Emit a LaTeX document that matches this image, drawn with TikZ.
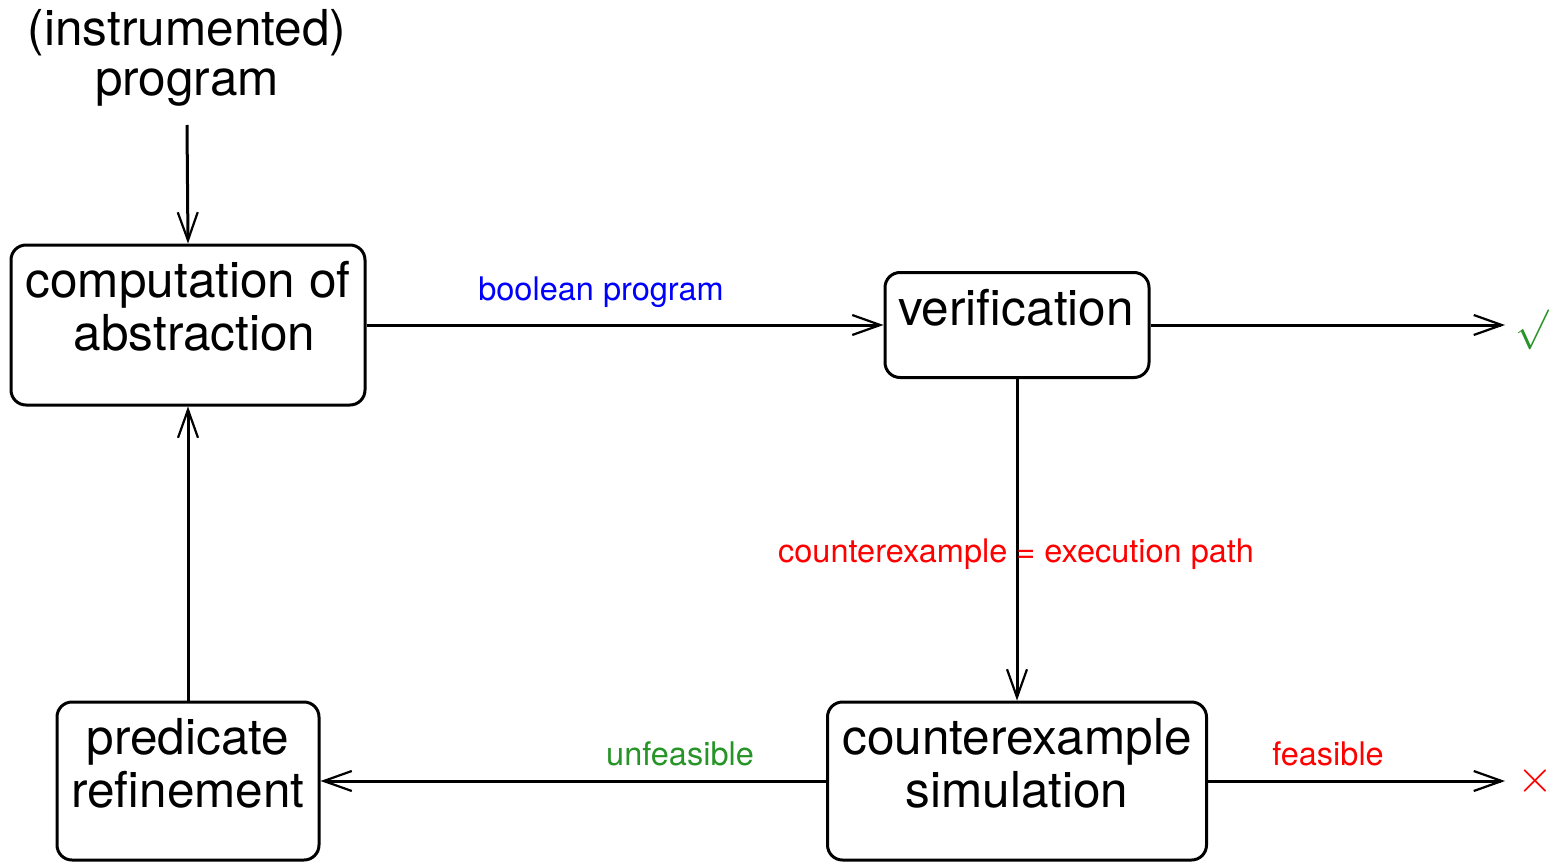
\documentclass[tikz,border=0pt]{standalone}
\usepackage{graphicx}
\usepackage{fontspec}
\setmainfont{TeX Gyre Heros}
\usetikzlibrary{arrows.meta}
\definecolor{okgreen}{rgb}{0.15,0.58,0.15}
\tikzset{
  stagebox/.style={draw, line width=3pt, rounded corners=15pt, inner sep=0pt},
  bigtext/.style={align=center, inner sep=0pt, font=\fontsize{49.5}{53}\selectfont},
  smalltext/.style={inner sep=0pt, anchor=base, font=\fontsize{32.5}{36}\selectfont},
  flow/.style={line width=3pt, -{Straight Barb[length=28pt,width=20pt,line width=2.2pt]}},
}
\begin{document}
\begin{tikzpicture}[x=1pt,y=-1pt]
  \useasboundingbox (0,0) rectangle (1552,862);

  % input
  \node[bigtext, font=\fontsize{49.5}{50}\selectfont] (prog) at (187,58) {(instrumented)\\program};
  \coordinate (progend) at (187,125);

  % stage boxes
  \node[stagebox, minimum width=354pt, minimum height=160pt] (abs) at (188,325) {};
  \node[bigtext] (abstxt) at (188,306) {computation of\\\hspace*{13pt}abstraction};

  \node[stagebox, minimum width=264pt, minimum height=105pt] (ver) at (1017,325) {};
  \node[bigtext] (vertxt) at (1016,308) {verification};

  \node[stagebox, minimum width=379pt, minimum height=158pt] (sim) at (1017,781) {};
  \node[bigtext] (simtxt) at (1017,763) {counterexample\\simulation};

  \node[stagebox, minimum width=262pt, minimum height=158pt] (ref) at (188,781) {};
  \node[bigtext] (reftxt) at (188,763) {predicate\\refinement};

  % outcomes
  \coordinate (okend) at (1505,325);
  \coordinate (badend) at (1505,781);
  \node[text=okgreen, inner sep=0pt, anchor=west] (ok) at (1515,330) {\scalebox{4}{$\surd$}};
  \node[text=red, inner sep=0pt] (bad) at (1535,781) {\scalebox{4.6}{$\times$}};

  % connectors
  \draw[flow] (progend) -- (abs.north);
  \draw[flow] (abs.east) -- (ver.west);
  \draw[flow] (ver.east) -- (okend);
  \draw[flow] (ver.south) -- (sim.north);
  \draw[flow] (sim.west) -- (ref.east);
  \draw[flow] (sim.east) -- (badend);
  \draw[flow] (ref.north) -- (abs.south);

  % connector labels
  \node[smalltext, text=blue] (lblbool) at (601,300) {boolean program};
  \node[smalltext, text=red] (lblcex) at (1016,562) {counterexample = execution path};
  \node[smalltext, text=okgreen] (lblunf) at (680,765) {unfeasible};
  \node[smalltext, text=red] (lblfeas) at (1328,765) {feasible};
\end{tikzpicture}
\end{document}
